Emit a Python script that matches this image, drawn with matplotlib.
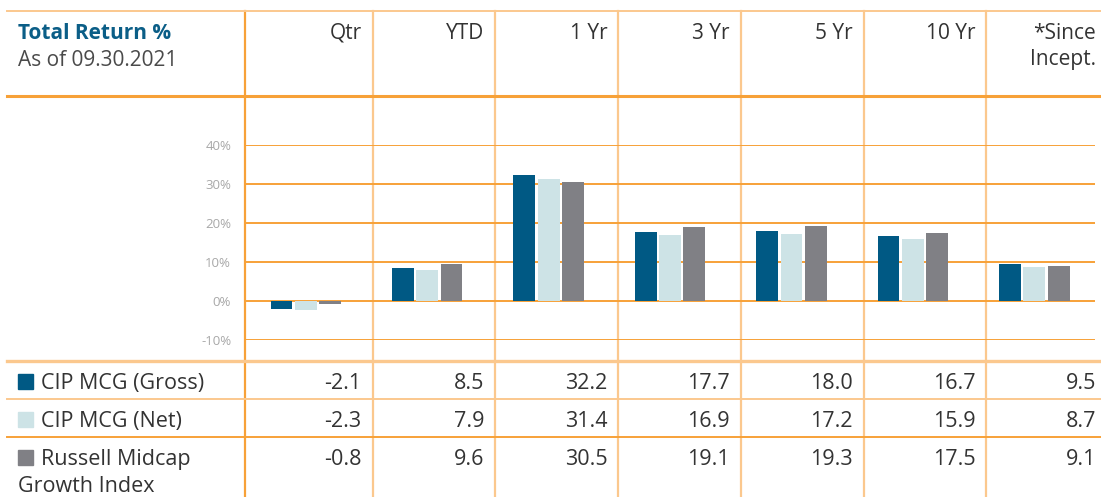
import matplotlib.pyplot as plt
from matplotlib.patches import Rectangle
import numpy as np

# Datos del gráfico
periodos = ['Qtr', 'YTD', '1 Yr', '3 Yr', '5 Yr', '10 Yr', '*Since\nIncept.']
series = ['CIP MCG (Gross)', 'CIP MCG (Net)', 'Russell Midcap\nGrowth Index']
gross = [-2.1, 8.5, 32.2, 17.7, 18.0, 16.7, 9.5]
net = [-2.3, 7.9, 31.4, 16.9, 17.2, 15.9, 8.7]
russell = [-0.8, 9.6, 30.5, 19.1, 19.3, 17.5, 9.1]
yticks = [-10, 0, 10, 20, 30, 40]

colores = ['#005984', '#cde3e6', '#808085']
naranja = '#f7a138'
naranja_claro = '#fbc88e'
texto = '#333333'

plt.rcParams['font.family'] = ['Open Sans', 'DejaVu Sans']

W, H = 1101, 497
fig = plt.figure(figsize=(W / 100, H / 100), dpi=100)

# Ejes de fondo en coordenadas de pixel (tabla)
bg = fig.add_axes([0, 0, 1, 1])
bg.set_xlim(0, W)
bg.set_ylim(H, 0)
bg.axis('off')

col_x = [245, 372.5, 495.3, 618.3, 741, 863.5, 986.3, 1107]

# lineas verticales
for i, x in enumerate(col_x[:-1]):
    c = naranja if i == 0 else naranja_claro
    bg.plot([x, x], [11, H], color=c, lw=1.6, zorder=1)
# lineas horizontales
bg.plot([7, W], [11, 11], color=naranja_claro, lw=1.4, zorder=1)
bg.plot([7, W], [95.5, 95.5], color=naranja, lw=2.2, zorder=1)
bg.plot([7, W], [360.5, 360.5], color=naranja_claro, lw=2.4, zorder=1)
bg.plot([7, W], [398.5, 398.5], color=naranja_claro, lw=1.4, zorder=1)
bg.plot([7, W], [437, 437], color=naranja, lw=1.4, zorder=1)

# encabezado
bg.text(18, 39, 'Total Return %', fontsize=15, fontweight='bold', color='#0b5e87',
        va='baseline', ha='left')
bg.text(18, 66, 'As of 09.30.2021', fontsize=15, color='#4a4a4a', va='baseline', ha='left')
for i, p in enumerate(periodos):
    for k, linea in enumerate(p.split('\n')):
        bg.text(col_x[i + 1] - 11, 39 + 26 * k, linea, fontsize=15, color=texto,
                ha='right', va='baseline')

# filas de la tabla
filas_base = [389, 427, 465]
valores = [gross, net, russell]
for j in range(3):
    bg.add_patch(Rectangle((18, filas_base[j] - 15.5), 15, 15, color=colores[j], zorder=2))
    nombre = series[j].split('\n')
    bg.text(41, filas_base[j], nombre[0], fontsize=15.5, color=texto,
            va='baseline', ha='left')
    if len(nombre) > 1:
        bg.text(18, filas_base[j] + 27, nombre[1], fontsize=15.5, color=texto,
                va='baseline', ha='left')
    for i, v in enumerate(valores[j]):
        bg.text(col_x[i + 1] - 11, filas_base[j], f'{v:.1f}', fontsize=15.5, color=texto,
                ha='right', va='baseline')

# Ejes del gráfico de barras
ax = fig.add_axes([245 / W, (H - 340) / H, (1095 - 245) / W, 195 / H])
ax.patch.set_alpha(0)
x = np.arange(len(periodos))
ancho = 0.18
ax.bar(x - 0.2, gross, ancho, color=colores[0], zorder=3)
ax.bar(x, net, ancho, color=colores[1], zorder=3)
ax.bar(x + 0.2, russell, ancho, color=colores[2], zorder=3)
ax.set_xlim(-0.5, 6.5)
ax.set_ylim(-10, 40)
ax.set_yticks(yticks)
ax.set_yticklabels([f'{t}%' for t in yticks])
ax.set_xticks([])
ax.grid(axis='y', color=naranja, lw=1.4, zorder=0)
ax.set_axisbelow(True)
ax.tick_params(axis='y', length=0, pad=10, labelsize=9.5, labelcolor='#a8a8a8')
for s in ax.spines.values():
    s.set_visible(False)

fig.savefig('out.png', dpi=100)
